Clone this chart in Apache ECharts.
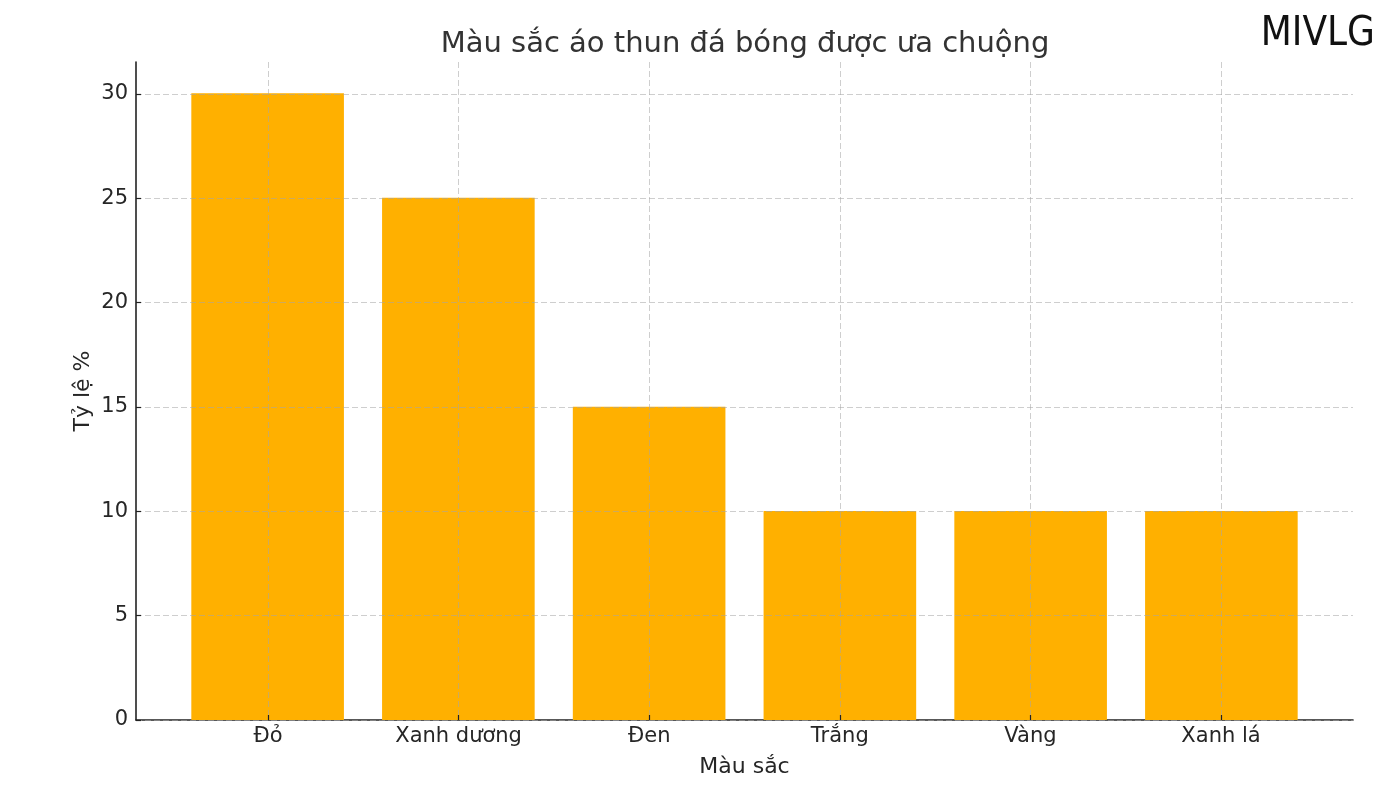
<!DOCTYPE html>
<html>
<head>
<meta charset="utf-8">
<script src="https://cdn.jsdelivr.net/npm/echarts@6/dist/echarts.min.js"></script>
<style>html,body{margin:0;padding:0;background:#fff}#c{width:1400px;height:788px}</style>
</head>
<body>
<div id="c"></div>
<script>
const categories = ['Đỏ', 'Xanh dương', 'Đen', 'Trắng', 'Vàng', 'Xanh lá'];
const values = [30, 25, 15, 10, 10, 10];
const yTicks = [0, 5, 10, 15, 20, 25, 30];
const titleText = 'Màu sắc áo thun đá bóng được ưa chuộng';
const xName = 'Màu sắc';
const yName = 'Tỷ lệ %';

const FONT = 'DejaVu Sans';
const TXT = '#262626';
const GRIDLINE = {type: [6, 3], color: 'rgba(165,165,165,0.55)', width: 1};

const chart = echarts.init(document.getElementById('c'), null, {renderer: 'canvas'});
chart.setOption({
  backgroundColor: '#fff',
  animation: false,
  title: {
    text: titleText, left: 740, top: 25, textAlign: 'center',
    textStyle: {fontFamily: FONT, fontSize: 29, fontWeight: 'normal', color: '#333'}
  },
  graphic: [{
    type: 'text', right: 25, top: 15,
    style: {text: 'MIVLG', fontFamily: 'DejaVu Sans Condensed', fontSize: 40, fontWeight: 'normal', fill: '#111'}
  }],
  grid: [
    {left: 136, right: 47, top: 62, bottom: 68, outerBoundsMode: 'none', containLabel: false},
    {left: 268, right: 179, top: 62, bottom: 68, outerBoundsMode: 'none', containLabel: false},
    {left: 136, right: 47, top: 94, bottom: 68, outerBoundsMode: 'none', containLabel: false}
  ],
  xAxis: [
    {gridIndex: 0, type: 'value', min: -0.69, max: 5.69, position: 'bottom',
     axisLine: {show: true, onZero: false, lineStyle: {color: '#222', width: 1.6}},
     axisTick: {show: false}, axisLabel: {show: false}, splitLine: {show: false},
     name: xName, nameLocation: 'middle', nameGap: 36,
     nameTextStyle: {fontFamily: FONT, fontSize: 22, color: TXT}},
    {gridIndex: 1, type: 'category', data: categories, boundaryGap: false, z: 5,
     axisLine: {show: false, onZero: false},
     axisTick: {show: true, inside: true, length: 5, alignWithLabel: true, lineStyle: {color: '#222', width: 1.2}},
     axisLabel: {fontFamily: FONT, fontSize: 21, color: TXT, margin: 6, interval: 0},
     splitLine: {show: true, interval: 0, lineStyle: GRIDLINE}},
    {gridIndex: 2, type: 'value', min: -0.69, max: 5.69, show: false}
  ],
  yAxis: [
    {gridIndex: 0, type: 'value', min: 0, max: 31.5,
     axisLine: {show: true, onZero: false, lineStyle: {color: '#222', width: 1.6}},
     axisTick: {show: false}, axisLabel: {show: false}, splitLine: {show: false},
     name: yName, nameLocation: 'middle', nameGap: 42, nameRotate: 90,
     nameTextStyle: {fontFamily: FONT, fontSize: 22, color: TXT}},
    {gridIndex: 1, type: 'value', min: 0, max: 31.5, show: false},
    {gridIndex: 2, type: 'value', min: yTicks[0], max: yTicks[yTicks.length - 1], interval: 5, z: 5,
     axisLine: {show: false, onZero: false},
     axisTick: {show: true, inside: true, length: 5, lineStyle: {color: '#222', width: 1.2}},
     axisLabel: {fontFamily: FONT, fontSize: 21, color: TXT, margin: 8},
     splitLine: {show: true, lineStyle: GRIDLINE}}
  ],
  series: [{
    type: 'bar', xAxisIndex: 0, yAxisIndex: 0,
    data: values.map((v, i) => [i, v]),
    barWidth: 152.6,
    itemStyle: {color: '#FFB000'},
    z: 2
  }]
});
</script>
</body>
</html>
